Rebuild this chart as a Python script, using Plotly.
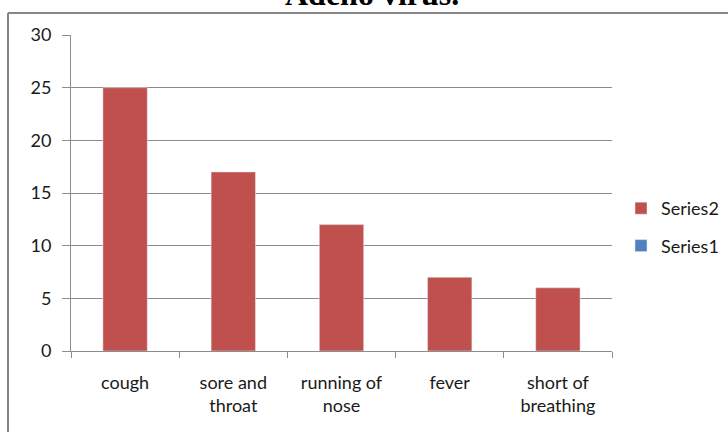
import plotly.graph_objects as go

categories = ["cough", "sore and<br>throat", "running of<br>nose", "fever", "short of<br>breathing"]
series2 = [25, 17, 12, 7, 6]
series1 = [None, None, None, None, None]
y_ticks = [0, 5, 10, 15, 20, 25, 30]

W, H = 728, 432
L, R, T, B = 71, 612, 35, 351
pw, ph = R - L, B - T

def px(x):
    return (x - L) / pw

def py(y):
    return (B - y) / ph

fig = go.Figure()
fig.add_trace(go.Bar(name="Series2", x=categories, y=series2, marker_color="#C0504D",
                     legendgroup="s2"))
fig.add_trace(go.Bar(name="Series1", x=categories, y=series1, marker_color="#4F81BD",
                     legendgroup="s1", showlegend=True))

grid = "#8c8c8c"
fig.update_layout(
    width=W, height=H,
    margin=dict(l=L, r=W - R, t=T, b=H - B, pad=0, autoexpand=False),
    paper_bgcolor="white", plot_bgcolor="white",
    barmode="overlay", bargap=0.59,
    font=dict(family="Lato", size=18, color="#1a1a1a"),
    legend=dict(x=px(621), y=py(190), xanchor="left", yanchor="top",
                tracegroupgap=11, font=dict(size=18), itemwidth=30,
                bgcolor="rgba(0,0,0,0)"),
    xaxis=dict(showgrid=False, showline=True, linecolor=grid, linewidth=1,
               ticks="outside", tickson="boundaries", ticklen=6, tickcolor=grid,
               tickfont=dict(size=18), automargin=False, ticklabelstandoff=15),
    yaxis=dict(range=[0, 30], tickvals=y_ticks, showgrid=True, gridcolor=grid,
               gridwidth=1, showline=True, linecolor=grid, linewidth=1,
               ticks="outside", ticklen=8, tickcolor=grid, zeroline=False,
               tickfont=dict(size=18), automargin=False, ticklabelstandoff=7),
    shapes=[
        dict(type="line", xref="paper", yref="paper", x0=px(8), x1=px(730),
             y0=py(13), y1=py(13), line=dict(color="#868686", width=2)),
        dict(type="line", xref="paper", yref="paper", x0=px(8), x1=px(8),
             y0=py(13), y1=py(440), line=dict(color="#868686", width=2)),
    ],
    annotations=[
        dict(text="<b>Adeno virus.</b>", xref="paper", yref="paper",
             x=px(372), y=py(14), xanchor="center", yanchor="bottom",
             showarrow=False,
             font=dict(family="Liberation Serif", size=32, color="black")),
    ],
)

fig.write_html("out.html", config={"displayModeBar": False},
               post_script="document.body.style.margin='0';document.body.style.overflow='hidden';")
